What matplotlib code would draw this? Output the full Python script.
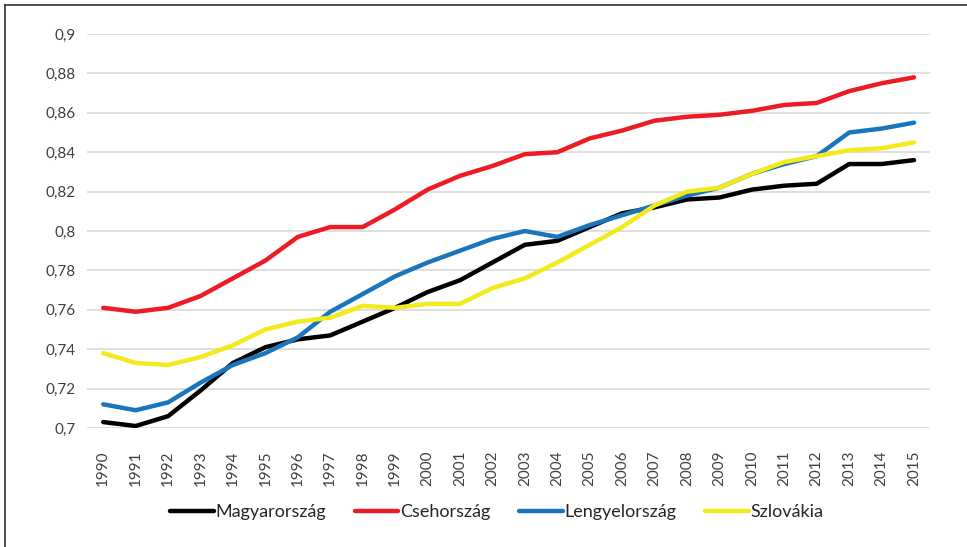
import matplotlib
matplotlib.use('Agg')
import matplotlib.pyplot as plt
from matplotlib.ticker import FuncFormatter, MultipleLocator
from matplotlib.lines import Line2D

# ── data ────────────────────────────────────────────────────────────────────
years = list(range(1990, 2016))
magyar = [0.703, 0.701, 0.706, 0.719, 0.733, 0.741, 0.745, 0.747, 0.754, 0.761,
          0.769, 0.775, 0.784, 0.793, 0.795, 0.802, 0.809, 0.812, 0.816, 0.817,
          0.821, 0.823, 0.824, 0.834, 0.834, 0.836]
cseh = [0.761, 0.759, 0.761, 0.767, 0.776, 0.785, 0.797, 0.802, 0.802, 0.811,
        0.821, 0.828, 0.833, 0.839, 0.840, 0.847, 0.851, 0.856, 0.858, 0.859,
        0.861, 0.864, 0.865, 0.871, 0.875, 0.878]
lengyel = [0.712, 0.709, 0.713, 0.723, 0.732, 0.738, 0.746, 0.759, 0.768, 0.777,
           0.784, 0.790, 0.796, 0.800, 0.797, 0.803, 0.808, 0.813, 0.818, 0.822,
           0.829, 0.834, 0.838, 0.850, 0.852, 0.855]
szlovak = [0.738, 0.733, 0.732, 0.736, 0.742, 0.750, 0.754, 0.756, 0.762, 0.761,
           0.763, 0.763, 0.771, 0.776, 0.784, 0.793, 0.802, 0.813, 0.820, 0.822,
           0.829, 0.835, 0.838, 0.841, 0.842, 0.845]
series_names = ['Magyarország', 'Csehország', 'Lengyelország', 'Szlovákia']
series_colors = ['#000000', '#ED1C24', '#1B75BC', '#F2EA1A']

plt.rcParams['font.family'] = ['Lato', 'DejaVu Sans']

fig = plt.figure(figsize=(9.67, 5.47), dpi=100)
fig.patch.set_facecolor('white')
ax = fig.add_axes([0.090, 0.2176, 0.872, 0.7202])

for vals, name, c in zip([magyar, cseh, lengyel, szlovak], series_names, series_colors):
    ax.plot(years, vals, color=c, lw=3.2, label=name, solid_capstyle='round',
            solid_joinstyle='round', zorder=3)

ax.set_xlim(1989.5, 2015.5)
ax.set_ylim(0.7, 0.9)
ax.yaxis.set_major_locator(MultipleLocator(0.02))
ax.yaxis.set_major_formatter(FuncFormatter(lambda v, p: f'{round(v, 2):g}'.replace('.', ',')))
ax.set_xticks(years)
ax.set_xticklabels([str(y) for y in years], rotation=90)
ax.grid(axis='y', color='#D9D9D9', lw=1.2, zorder=0)
for s in ax.spines.values():
    s.set_visible(False)
ax.tick_params(axis='both', length=0, labelsize=11, colors='#404040')
ax.tick_params(axis='x', pad=16)
ax.tick_params(axis='y', pad=8)

ax.legend(loc='center', bbox_to_anchor=(0.514, 0.064), bbox_transform=fig.transFigure,
          ncol=4, frameon=False, fontsize=13, handlelength=2.4, handletextpad=0.1,
          columnspacing=1.6, labelcolor='#262626')

# frame: only top and left edges show in the crop
fx, fy = 4.5 / 967, 1 - 4.5 / 547
fig.lines.append(Line2D([fx, 1], [fy, fy], transform=fig.transFigure, color='#3F3F3F', lw=1.3))
fig.lines.append(Line2D([fx, fx], [0, fy], transform=fig.transFigure, color='#3F3F3F', lw=1.3))

plt.savefig('out.png', dpi=100, facecolor=fig.get_facecolor())
plt.close()
